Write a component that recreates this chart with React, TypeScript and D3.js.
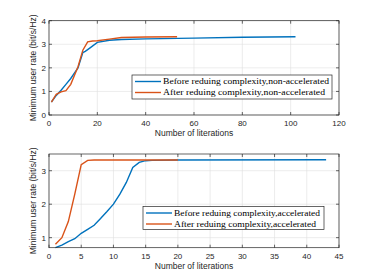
import * as d3 from "d3";

type Pt = [number, number];

// top panel: non-accelerated
const topBefore: Pt[] = [
  [1, 0.55], [3, 0.83], [5, 1.05], [7, 1.3], [9, 1.55], [11, 1.85], [12, 2.0],
  [14, 2.65], [15, 2.7], [17, 2.85], [20, 3.08], [25, 3.17], [30, 3.2],
  [40, 3.23], [60, 3.26], [80, 3.3], [102, 3.32],
];
const topAfter: Pt[] = [
  [1, 0.55], [3, 0.88], [5, 0.98], [7, 1.03], [9, 1.3], [12, 2.05], [14, 2.75],
  [16, 3.1], [18, 3.14], [20, 3.15], [25, 3.22], [30, 3.29], [40, 3.31], [53, 3.32],
];
// bottom panel: accelerated
const botBefore: Pt[] = [
  [1, 0.7], [2, 0.78], [3, 0.88], [4, 0.97], [5, 1.13], [6, 1.25], [7, 1.37],
  [8, 1.57], [9, 1.78], [10, 2.0], [11, 2.3], [12, 2.65], [13, 3.1], [14, 3.25],
  [15, 3.3], [16, 3.31], [20, 3.32], [43, 3.33],
];
const botAfter: Pt[] = [
  [1, 0.8], [2, 1.0], [3, 1.48], [4, 2.3], [5, 3.18], [6, 3.31], [7, 3.32], [20, 3.32],
];

const topXTicks = [0, 20, 40, 60, 80, 100, 120];
const topYTicks = [0, 1, 2, 3, 4];
const botXTicks = [0, 5, 10, 15, 20, 25, 30, 35, 40, 45];
const botYTicks = [1, 2, 3];

const topLegend = [
  "Before reduing complexity,non-accelerated",
  "After reduing complexity,non-accelerated",
];
const botLegend = [
  "Before reduing complexity,accelerated",
  "After reduing complexity,accelerated",
];

const BLUE = "#0072BD";
const ORANGE = "#D95319";
const AXIS = "#262626";
const SANS = "'Liberation Sans', Arial, sans-serif";
const SERIF = "'Liberation Serif', 'DejaVu Serif', serif";

interface PanelProps {
  top: number;
  bottom: number;
  xDomain: [number, number];
  yDomain: [number, number];
  xTicks: number[];
  yTicks: number[];
  before: Pt[];
  after: Pt[];
  legend: string[];
  legendWidths: number[];
  legendBox: { x: number; y: number; w: number; h: number };
}

function Panel({ top, bottom, xDomain, yDomain, xTicks, yTicks, before, after, legend, legendWidths, legendBox }: PanelProps) {
  const left = 49;
  const right = 339;
  const x = d3.scaleLinear().domain(xDomain).range([left, right]);
  const y = d3.scaleLinear().domain(yDomain).range([bottom, top]);
  const line = d3.line<Pt>().x((d) => x(d[0])).y((d) => y(d[1]));
  const tl = 3;

  return (
    <g>
      <rect x={left} y={top} width={right - left} height={bottom - top} fill="#fff" />
      {xTicks.map((t) => (
        <line key={"gx" + t} x1={x(t)} x2={x(t)} y1={top} y2={bottom} stroke="#dfdfdf" strokeWidth={0.6} />
      ))}
      {yTicks.map((t) => (
        <line key={"gy" + t} x1={left} x2={right} y1={y(t)} y2={y(t)} stroke="#dfdfdf" strokeWidth={0.6} />
      ))}
      <path d={line(before) ?? ""} fill="none" stroke={BLUE} strokeWidth={1.4} />
      <path d={line(after) ?? ""} fill="none" stroke={ORANGE} strokeWidth={1.4} />
      <rect x={left} y={top} width={right - left} height={bottom - top} fill="none" stroke={AXIS} strokeWidth={0.7} />
      {xTicks.map((t) => (
        <g key={"tx" + t}>
          <line x1={x(t)} x2={x(t)} y1={bottom} y2={bottom - tl} stroke={AXIS} strokeWidth={0.7} />
          <line x1={x(t)} x2={x(t)} y1={top} y2={top + tl} stroke={AXIS} strokeWidth={0.7} />
          <text x={x(t)} y={bottom + 11} textAnchor="middle" fontSize={8} fill={AXIS} fontFamily={SANS}>
            {t}
          </text>
        </g>
      ))}
      {yTicks.map((t) => (
        <g key={"ty" + t}>
          <line x1={left} x2={left + tl} y1={y(t)} y2={y(t)} stroke={AXIS} strokeWidth={0.7} />
          <line x1={right} x2={right - tl} y1={y(t)} y2={y(t)} stroke={AXIS} strokeWidth={0.7} />
          <text x={left - 3} y={y(t) + 3} textAnchor="end" fontSize={8} fill={AXIS} fontFamily={SANS}>
            {t}
          </text>
        </g>
      ))}
      <text x={(left + right) / 2} y={bottom + 21} textAnchor="middle" fontSize={8.5} fill={AXIS} fontFamily={SANS}>
        Number of literations
      </text>
      <text
        transform={`translate(${left - 13},${(top + bottom) / 2}) rotate(-90)`}
        textAnchor="middle"
        fontSize={8.5}
        fill={AXIS}
        fontFamily={SANS}
      >
        Minimum user rate (bit/s/Hz)
      </text>
      <rect x={legendBox.x} y={legendBox.y} width={legendBox.w} height={legendBox.h} fill="#fff" stroke={AXIS} strokeWidth={0.7} />
      {legend.map((s, i) => {
        const ly = legendBox.y + 6.5 + i * 11;
        return (
          <g key={s}>
            <line x1={legendBox.x + 3} x2={legendBox.x + 29} y1={ly} y2={ly} stroke={i === 0 ? BLUE : ORANGE} strokeWidth={1.4} />
            <text
              x={legendBox.x + 31}
              y={ly + 2.8}
              fontSize={8.3}
              fill="#000"
              fontFamily={SERIF}
              textLength={legendWidths[i]}
              lengthAdjust="spacingAndGlyphs"
            >
              {s}
            </text>
          </g>
        );
      })}
    </g>
  );
}

export default function App() {
  return (
    <svg width={374} height={280} style={{ position: "absolute", left: 0, top: 0, background: "#fff" }}>
      <Panel
        top={20.7}
        bottom={115}
        xDomain={[0, 120]}
        yDomain={[0, 4]}
        xTicks={topXTicks}
        yTicks={topYTicks}
        before={topBefore}
        after={topAfter}
        legend={topLegend}
        legendWidths={[166, 162]}
        legendBox={{ x: 132, y: 75, w: 200, h: 24 }}
      />
      <Panel
        top={154}
        bottom={247.7}
        xDomain={[0, 45]}
        yDomain={[0.7, 3.5]}
        xTicks={botXTicks}
        yTicks={botYTicks}
        before={botBefore}
        after={botAfter}
        legend={botLegend}
        legendWidths={[146, 142]}
        legendBox={{ x: 143, y: 206.5, w: 181, h: 23 }}
      />
    </svg>
  );
}
